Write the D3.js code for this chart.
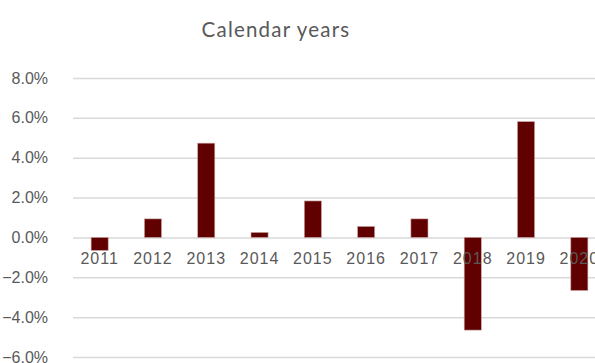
<!DOCTYPE html>
<html>
<head>
<meta charset="utf-8">
<script src="https://cdn.jsdelivr.net/npm/d3@7"></script>
<style>
  html, body { margin: 0; padding: 0; background: #fff; overflow: hidden; }
  svg { display: block; font-family: "Lato", "DejaVu Sans", sans-serif; }
</style>
</head>
<body>
<svg id="chart"></svg>
<script>
(function () {
    // chart data
    var years = ['2011','2012','2013','2014','2015','2016','2017','2018','2019','2020'];
    var returns = [-0.0065, 0.0093, 0.0473, 0.0025, 0.0183, 0.0055, 0.0093, -0.0465, 0.0581, -0.0266];
    var yTicks = [-0.06, -0.04, -0.02, 0, 0.02, 0.04, 0.06, 0.08];

    var width = 595, height = 363;
    var svg = d3.select('#chart').attr('width', width).attr('height', height);

    // plot area runs past the right edge, like the cropped original
    var left = 73, right = 606, top = 78, bottom = 357;

    var x = d3.scaleBand().domain(years).range([left, right]).paddingInner(0.68).paddingOuter(0.34);
    var y = d3.scaleLinear().domain([-0.06, 0.08]).range([bottom, top]);

    svg.append('text')
        .attr('x', 276).attr('y', 37)
        .attr('text-anchor', 'middle')
        .attr('fill', '#595959')
        .style('font-size', '20.5px')
        .style('letter-spacing', '1.2px')
        .text('Calendar years');

    var yAxis = d3.axisLeft(y).tickValues(yTicks).tickFormat(d3.format('.1%'))
        .tickSize(-(right - left));
    var gy = svg.append('g').attr('transform', 'translate(' + left + ',0)').call(yAxis);
    gy.select('.domain').remove();
    gy.selectAll('.tick line').attr('stroke', '#d9d9d9').attr('stroke-width', 1.5);
    gy.selectAll('.tick text').attr('fill', '#595959').style('font-size', '16px')
        .attr('x', -25);

    svg.append('g').selectAll('rect').data(returns).enter().append('rect')
        .attr('x', function (d, i) { return x(years[i]); })
        .attr('width', x.bandwidth())
        .attr('y', function (d) { return y(Math.max(0, d)); })
        .attr('height', function (d) { return Math.abs(y(d) - y(0)); })
        .attr('fill', '#600000')
        .attr('stroke', '#c9a0a0')
        .attr('stroke-width', 0.6);

    var xAxis = d3.axisBottom(x).tickSize(0).tickPadding(15);
    var gx = svg.append('g').attr('transform', 'translate(0,' + y(0) + ')').call(xAxis);
    gx.select('.domain').remove();
    gx.selectAll('.tick text').attr('fill', '#595959').style('font-size', '16px')
        .style('letter-spacing', '1px');
})();
</script>
</body>
</html>
